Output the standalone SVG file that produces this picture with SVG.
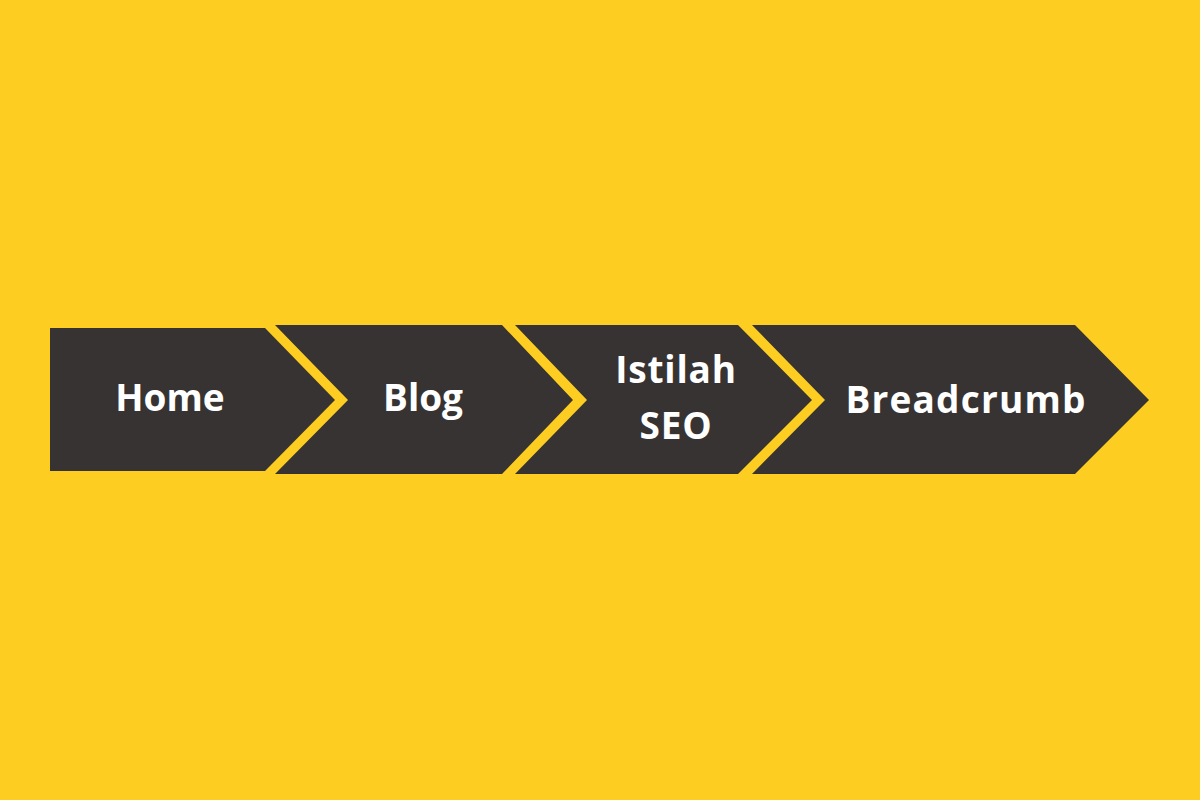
<svg xmlns="http://www.w3.org/2000/svg" width="1200" height="800" viewBox="0 0 1200 800">
<style>
.s{fill:#373333}
.t{fill:#ffffff;font-family:"Open Sans","Liberation Sans",sans-serif;font-weight:700;font-size:37px;text-anchor:middle}
</style>
<rect width="1200" height="800" fill="#fecd21"/>
<g id="home"><polygon class="s" points="50,328 265,328 335,400 265,471 50,471"/><text class="t" x="170" y="411">Home</text></g>
<g id="blog"><polygon class="s" points="275,325 502,325 573,400 502,474 275,474 348,400"/><text class="t" x="423" y="411">Blog</text></g>
<g id="istilah"><polygon class="s" points="515,325 738,325 812,400 738,474 515,474 587,400"/><text class="t" x="676" y="383" letter-spacing="0.8">Istilah</text><text class="t" x="676" y="439" letter-spacing="0.8">SEO</text></g>
<g id="breadcrumb"><polygon class="s" points="752,325 1075,325 1149,400 1075,474 752,474 825,400"/><text class="t" x="966" y="413" letter-spacing="1.2">Breadcrumb</text></g>
<g id="connectors"/>
</svg>
